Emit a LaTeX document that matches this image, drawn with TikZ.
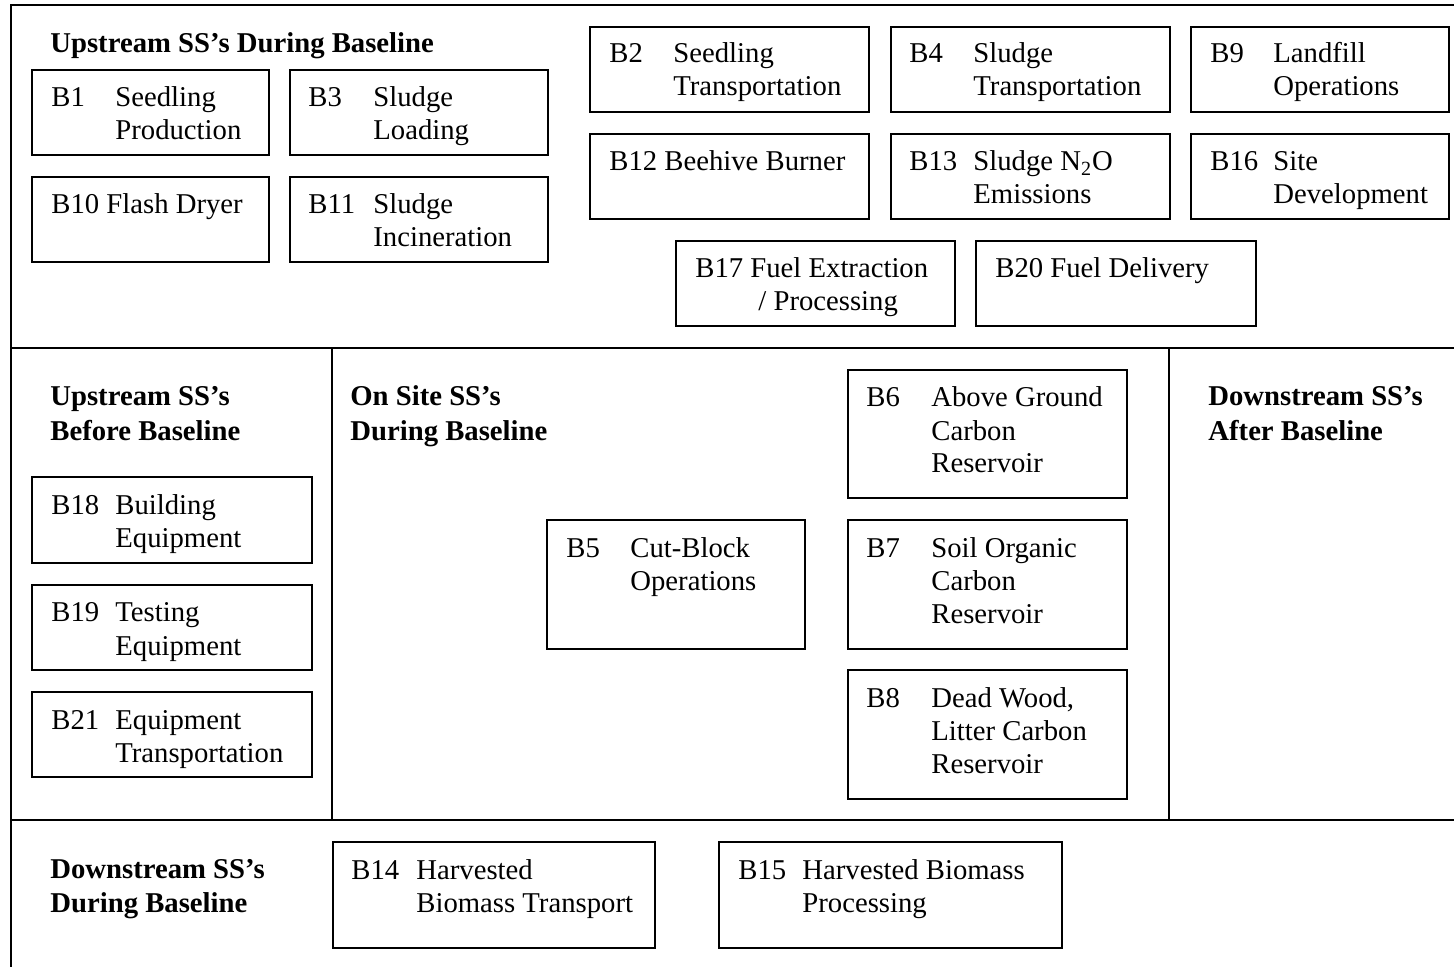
\documentclass[tikz,border=0pt]{standalone}
\usepackage{fontspec}
\setmainfont{Liberation Serif}
\usetikzlibrary{fit}
\tikzset{
  box/.style={draw, line width=1pt, inner sep=0pt},
  txt/.style={anchor=base west, inner sep=0pt, yshift=-0.5pt, font=\fontsize{14.35}{16.5}\selectfont},
  hdr/.style={anchor=base west, inner sep=0pt, yshift=-0.5pt, font=\fontsize{14.35}{16.5}\selectfont\bfseries},
  frameline/.style={line width=1pt}
}
\newcommand\bbox[5]{\node[box, fit={(#2,#3) (#4,#5)}] (#1) {};}
\newcommand\tline[4]{\node[txt] (#1) at (#2,#3) {#4};}
\newcommand\hdline[4]{\node[hdr] (#1) at (#2,#3) {#4};}
\begin{document}
\begin{tikzpicture}[x=0.5pt,y=-0.5pt]
\useasboundingbox (0,0) rectangle (1454,967);
% frame
\coordinate (ftl) at (11,5);
\coordinate (ftr) at (1454,5);
\coordinate (fbl) at (11,967);
\coordinate (m1l) at (11,348);
\coordinate (m1r) at (1454,348);
\coordinate (m2l) at (11,820);
\coordinate (m2r) at (1454,820);
\coordinate (v1t) at (332,348);
\coordinate (v1b) at (332,820);
\coordinate (v2t) at (1169,348);
\coordinate (v2b) at (1169,820);
\draw[frameline] (ftr) -- (ftl) -- (fbl);
\draw[frameline] (m1l) -- (m1r);
\draw[frameline] (m2l) -- (m2r);
\draw[frameline] (v1t) -- (v1b);
\draw[frameline] (v2t) -- (v2b);

% top section
\hdline{h1}{50}{52}{Upstream SS’s During Baseline}
\bbox{b1}{32}{70}{269}{155}
\tline{b1c}{51}{106}{B1}
\tline{b1a}{115}{106}{Seedling}
\tline{b1b}{115}{139}{Production}
\bbox{b3}{290}{70}{548}{155}
\tline{b3c}{308}{106}{B3}
\tline{b3a}{373}{106}{Sludge}
\tline{b3b}{373}{139}{Loading}
\bbox{b10}{32}{177}{269}{262}
\tline{b10c}{51}{213}{B10 Flash Dryer}
\bbox{b11}{290}{177}{548}{262}
\tline{b11c}{308}{213}{B11}
\tline{b11a}{373}{213}{Sludge}
\tline{b11b}{373}{246}{Incineration}

\bbox{b2}{590}{27}{869}{112}
\tline{b2c}{609}{62}{B2}
\tline{b2a}{673}{62}{Seedling}
\tline{b2b}{673}{95}{Transportation}
\bbox{b4}{891}{27}{1170}{112}
\tline{b4c}{909}{62}{B4}
\tline{b4a}{973}{62}{Sludge}
\tline{b4b}{973}{95}{Transportation}
\bbox{b9}{1191}{27}{1449}{112}
\tline{b9c}{1210}{62}{B9}
\tline{b9a}{1273}{62}{Landfill}
\tline{b9b}{1273}{95}{Operations}

\bbox{b12}{590}{134}{869}{219}
\tline{b12c}{609}{170}{B12 Beehive Burner}
\bbox{b13}{891}{134}{1170}{219}
\tline{b13c}{909}{170}{B13}
\tline{b13a}{973}{170}{Sludge N\textsubscript{2}O}
\tline{b13b}{973}{203}{Emissions}
\bbox{b16}{1191}{134}{1449}{219}
\tline{b16c}{1210}{170}{B16}
\tline{b16a}{1273}{170}{Site}
\tline{b16b}{1273}{203}{Development}

\bbox{b17}{676}{241}{955}{326}
\tline{b17c}{695}{277}{B17 Fuel Extraction}
\tline{b17b}{758}{310}{/ Processing}
\bbox{b20}{976}{241}{1256}{326}
\tline{b20c}{995}{277}{B20 Fuel Delivery}

% middle section
\hdline{h2a}{50}{405}{Upstream SS’s}
\hdline{h2b}{50}{439}{Before Baseline}
\bbox{b18}{32}{477}{312}{563}
\tline{b18c}{51}{513}{B18}
\tline{b18a}{115}{513}{Building}
\tline{b18b}{115}{546}{Equipment}
\bbox{b19}{32}{585}{312}{670}
\tline{b19c}{51}{620}{B19}
\tline{b19a}{115}{620}{Testing}
\tline{b19b}{115}{654}{Equipment}
\bbox{b21}{32}{692}{312}{777}
\tline{b21c}{51}{728}{B21}
\tline{b21a}{115}{728}{Equipment}
\tline{b21b}{115}{761}{Transportation}

\hdline{h3a}{350}{405}{On Site SS’s}
\hdline{h3b}{350}{439}{During Baseline}
\bbox{b6}{848}{370}{1127}{498}
\tline{b6c}{866}{406}{B6}
\tline{b6a}{931}{406}{Above Ground}
\tline{b6b}{931}{439}{Carbon}
\tline{b6d}{931}{472}{Reservoir}
\bbox{b5}{547}{520}{805}{649}
\tline{b5c}{566}{556}{B5}
\tline{b5a}{630}{556}{Cut-Block}
\tline{b5b}{630}{589}{Operations}
\bbox{b7}{848}{520}{1127}{649}
\tline{b7c}{866}{556}{B7}
\tline{b7a}{931}{556}{Soil Organic}
\tline{b7b}{931}{589}{Carbon}
\tline{b7d}{931}{622}{Reservoir}
\bbox{b8}{848}{670}{1127}{799}
\tline{b8c}{866}{706}{B8}
\tline{b8a}{931}{706}{Dead Wood,}
\tline{b8b}{931}{739}{Litter Carbon}
\tline{b8d}{931}{772}{Reservoir}

\hdline{h4a}{1208}{405}{Downstream SS’s}
\hdline{h4b}{1208}{439}{After Baseline}

% bottom section
\hdline{h5a}{50}{877}{Downstream SS’s}
\hdline{h5b}{50}{911}{During Baseline}
\bbox{b14}{333}{842}{655}{948}
\tline{b14c}{351}{878}{B14}
\tline{b14a}{416}{878}{Harvested}
\tline{b14b}{416}{911}{Biomass Transport}
\bbox{b15}{719}{842}{1062}{948}
\tline{b15c}{738}{878}{B15}
\tline{b15a}{802}{878}{Harvested Biomass}
\tline{b15b}{802}{911}{Processing}
\end{tikzpicture}
\end{document}
